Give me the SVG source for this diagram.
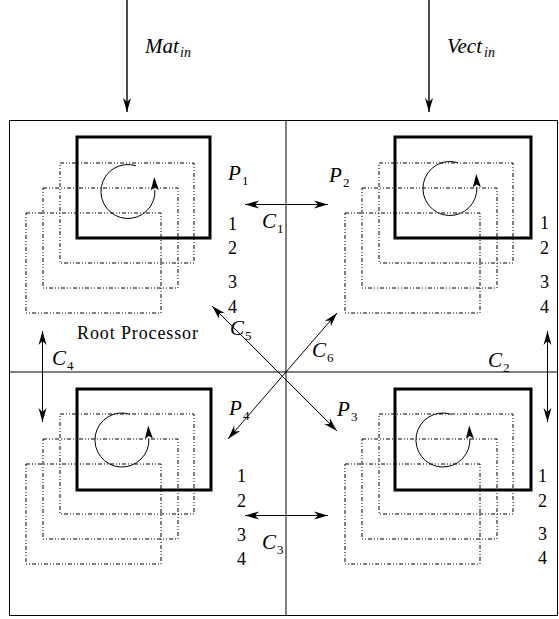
<svg xmlns="http://www.w3.org/2000/svg" width="559" height="619" viewBox="0 0 559 619">
<style>
.frame{fill:none;stroke:#000;stroke-width:1}
.thick{fill:none;stroke:#000;stroke-width:3}
.dd{fill:none;stroke:#000;stroke-width:1;stroke-dasharray:4 2 1 2 1 2}
.ln{fill:none;stroke:#000;stroke-width:1}
.top{fill:none;stroke:#000;stroke-width:1.4}
.m{font-family:"Liberation Serif",serif;font-style:italic;font-size:21px;fill:#000}
.s{font-family:"Liberation Serif",serif;font-size:13px;fill:#000}
.si{font-family:"Liberation Serif",serif;font-style:italic;font-size:14px;fill:#000}
.n{font-family:"Liberation Serif",serif;font-size:18px;fill:#000}
</style>
<defs>
<marker id="ah" markerUnits="userSpaceOnUse" markerWidth="16" markerHeight="10" viewBox="-14 -5 16 10" refX="0" refY="0" orient="auto">
<path d="M0,0 L-14,-4 L-10,0 L-14,4 Z" fill="#000"/>
</marker>
<marker id="ahs" markerUnits="userSpaceOnUse" markerWidth="16" markerHeight="10" viewBox="-14 -5 16 10" refX="0" refY="0" orient="auto-start-reverse">
<path d="M0,0 L-14,-4 L-10,0 L-14,4 Z" fill="#000"/>
</marker>
<marker id="ahb" markerUnits="userSpaceOnUse" markerWidth="15" markerHeight="10" viewBox="-1 -5 15 10" refX="0" refY="0" orient="auto">
<path d="M13,0 L0,-4 L2.5,0 L0,4 Z" fill="#000"/>
</marker>
<g id="stack">
<rect class="dd" x="0" y="0" width="134" height="100"/>
<rect class="dd" x="-17" y="25" width="135" height="100"/>
<rect class="dd" x="-34" y="50" width="135" height="100"/>
</g>
<path id="spin" class="ln" d="M7.9,-25.8 A27 27 0 1 0 26.9,-1.4" marker-end="url(#ahb)"/>
</defs>
<rect class="frame" x="9.5" y="120.5" width="548" height="495"/>
<g id="connectors">
<line class="ln" x1="286" y1="120.5" x2="286" y2="615.5"/>
<line class="ln" x1="9.5" y1="372" x2="557.5" y2="372"/>
<line class="top" x1="127" y1="0" x2="127" y2="112" marker-end="url(#ah)"/>
<line class="top" x1="429" y1="0" x2="429" y2="112" marker-end="url(#ah)"/>
<line class="ln" x1="245" y1="204.5" x2="328" y2="204.5" marker-start="url(#ahs)" marker-end="url(#ahs)"/>
<line class="ln" x1="245" y1="515.5" x2="328" y2="515.5" marker-start="url(#ahs)" marker-end="url(#ahs)"/>
<line class="ln" x1="42.5" y1="331" x2="42.5" y2="422" marker-start="url(#ahs)" marker-end="url(#ahs)"/>
<line class="ln" x1="547.5" y1="331" x2="547.5" y2="422" marker-start="url(#ahs)" marker-end="url(#ahs)"/>
<line class="ln" x1="212" y1="306" x2="337" y2="431" marker-start="url(#ahs)" marker-end="url(#ahs)"/>
<line class="ln" x1="228" y1="439" x2="337" y2="313" marker-start="url(#ahs)" marker-end="url(#ahs)"/>
<text class="m" x="145" y="53">Mat</text><text class="si" x="180" y="57">in</text>
<text class="m" x="447" y="53">Vect</text><text class="si" x="484" y="57">in</text>
<text class="m" x="262" y="228">C</text><text class="s" x="277" y="233">1</text>
<text class="m" x="488" y="367">C</text><text class="s" x="503" y="372">2</text>
<text class="m" x="262" y="549">C</text><text class="s" x="277" y="554">3</text>
<text class="m" x="52" y="365">C</text><text class="s" x="67" y="370">4</text>
<text class="m" x="230" y="335">C</text><text class="s" x="245" y="340">5</text>
<text class="m" x="312" y="357">C</text><text class="s" x="327" y="362">6</text>
</g>
<g id="p1">
<use href="#stack" x="60" y="163"/>
<rect class="thick" x="77" y="137" width="133" height="101"/>
<use href="#spin" x="128" y="191.5"/>
<text class="m" x="228" y="180">P</text><text class="s" x="242" y="185">1</text>
<text class="n" x="228" y="230">1</text><text class="n" x="228" y="254">2</text><text class="n" x="228" y="288">3</text><text class="n" x="228" y="313">4</text>
<text class="n" x="77" y="339" textLength="121">Root Processor</text>
</g>
<g id="p2">
<use href="#stack" x="379" y="163"/>
<rect class="thick" x="395" y="137" width="136" height="101"/>
<use href="#spin" x="450" y="188.5"/>
<text class="m" x="329" y="182">P</text><text class="s" x="343" y="187">2</text>
<text class="n" x="540" y="229">1</text><text class="n" x="540" y="254">2</text><text class="n" x="540" y="288">3</text><text class="n" x="540" y="313">4</text>
</g>
<g id="p3">
<use href="#stack" x="379" y="414"/>
<rect class="thick" x="395" y="389" width="136" height="101"/>
<use href="#spin" x="443" y="440"/>
<text class="m" x="337" y="416">P</text><text class="s" x="351" y="421">3</text>
<text class="n" x="538" y="482">1</text><text class="n" x="538" y="507">2</text><text class="n" x="538" y="540">3</text><text class="n" x="538" y="564">4</text>
</g>
<g id="p4">
<use href="#stack" x="60" y="414"/>
<rect class="thick" x="77" y="389" width="134" height="101"/>
<use href="#spin" x="122" y="440"/>
<text class="m" x="229" y="415">P</text><text class="s" x="243" y="420">4</text>
<text class="n" x="237" y="482">1</text><text class="n" x="237" y="507">2</text><text class="n" x="237" y="541">3</text><text class="n" x="237" y="565">4</text>
</g>
</svg>
